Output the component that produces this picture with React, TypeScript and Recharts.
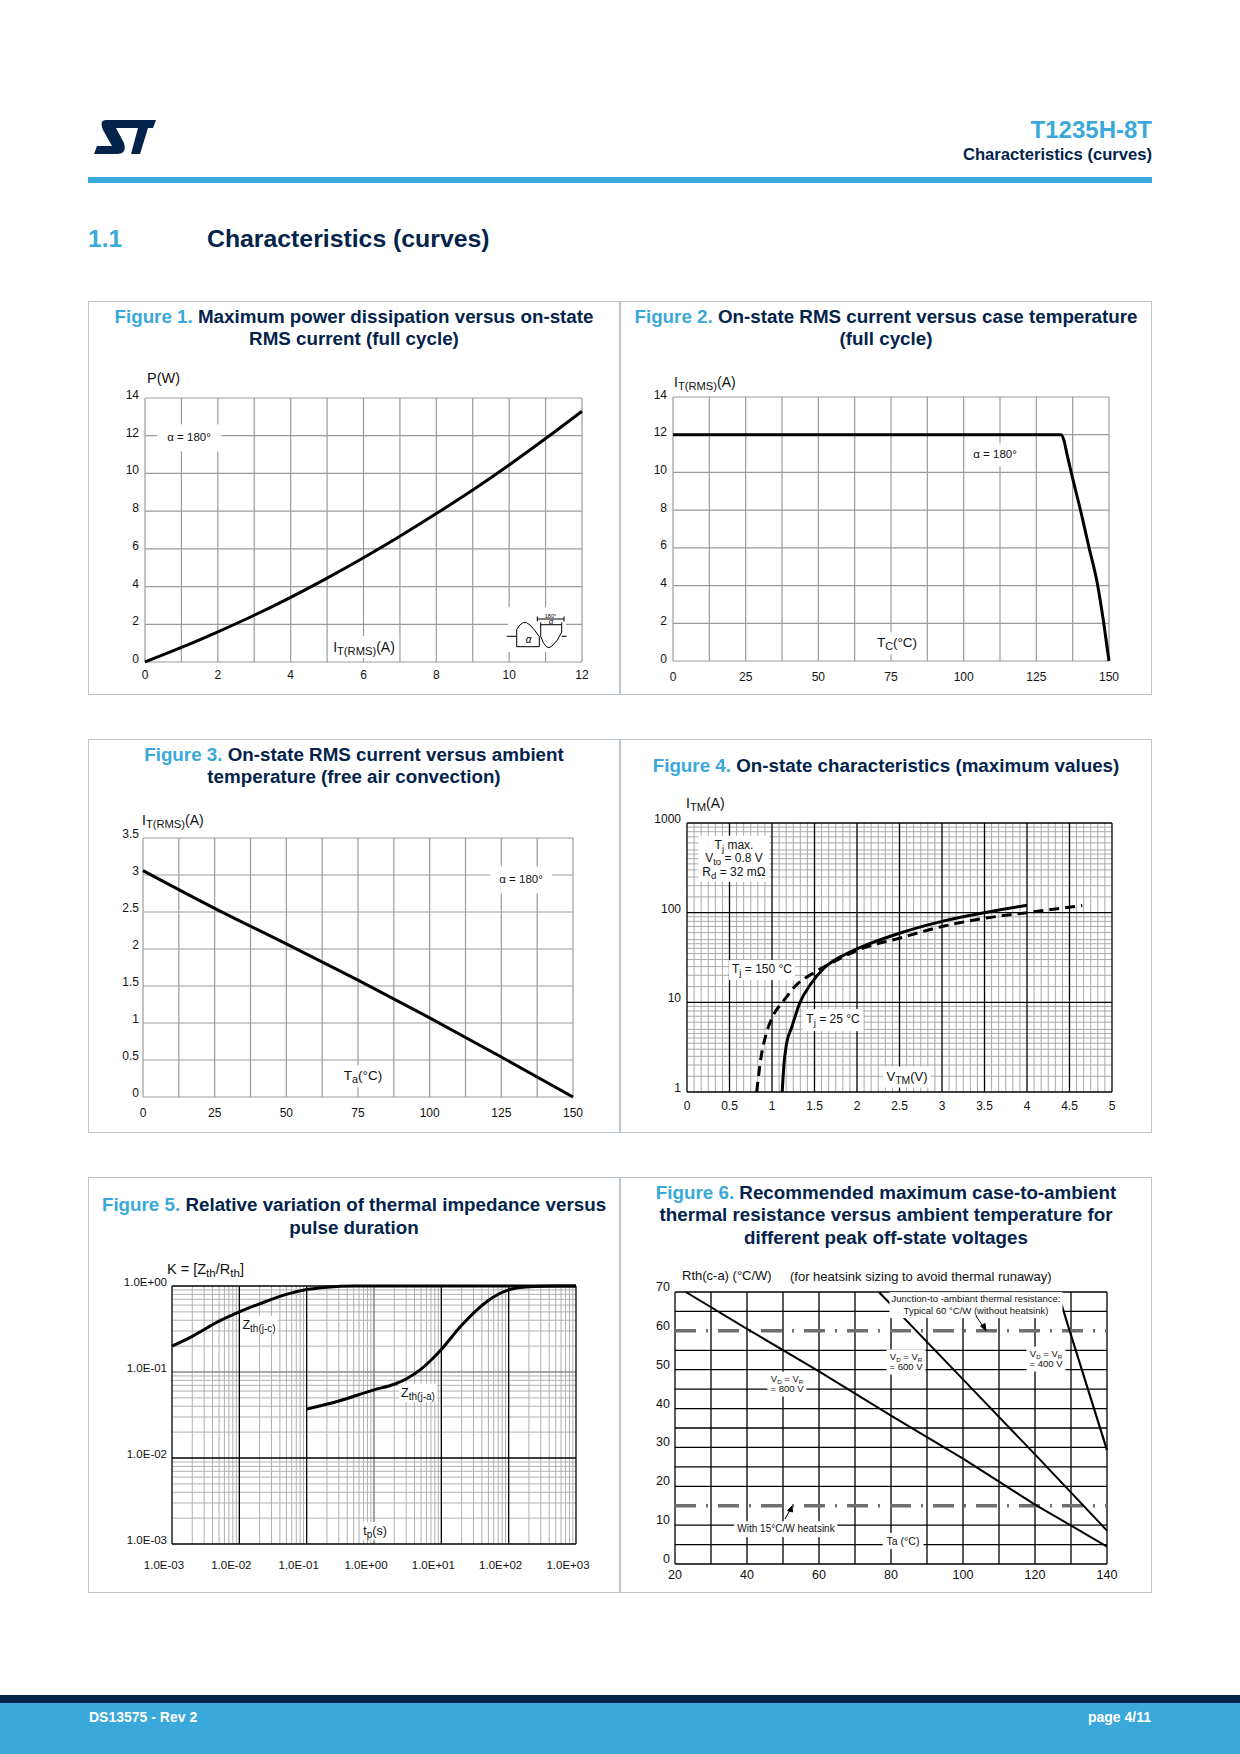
import React from "react";
import { LineChart, Line, XAxis, YAxis, ReferenceLine } from "recharts";

const FONT = "'Liberation Sans', Arial, Helvetica, sans-serif";
const NAVY = "#03234B";
const BLUE = "#3AA8DB";
const INK = "#111";

// ---------- data ----------
// Figure 1: P(W) vs IT(RMS)(A)
const fig1Current = [0, 1, 2, 3, 4, 5, 6, 7, 8, 9, 10, 11, 12];
const fig1Power = [0, 0.77, 1.6, 2.48, 3.43, 4.45, 5.53, 6.67, 7.87, 9.12, 10.45, 11.85, 13.3];
const fig1XTicks = [0, 1, 2, 3, 4, 5, 6, 7, 8, 9, 10, 11, 12];
const fig1YTicks = [0, 2, 4, 6, 8, 10, 12, 14];

// Figure 2: IT(RMS) vs Tc
const fig2CaseTemp = [0, 133.5, 134.5, 135.5, 137, 140.5, 143, 146, 148.2, 150];
const fig2Current = [12, 12, 11.7, 11.0, 10, 7.8, 6.1, 4.1, 2, 0];
const tempTicks = [0, 12.5, 25, 37.5, 50, 62.5, 75, 87.5, 100, 112.5, 125, 137.5, 150];

// Figure 3: IT(RMS) vs Ta
const fig3AmbTemp = [0, 25, 50, 75, 100, 125, 150];
const fig3Current = [3.06, 2.55, 2.07, 1.58, 1.07, 0.54, 0];
const fig3YTicks = [0, 0.5, 1, 1.5, 2, 2.5, 3, 3.5];

// Figure 4: ITM vs VTM
const fig4VoltTj25 = [1.12, 1.14, 1.17, 1.23, 1.33, 1.45, 1.61, 1.8, 2.0, 2.5, 3.0, 3.5, 4.0];
const fig4CurrTj25 = [1, 2, 3.4, 5.2, 10, 15.7, 24, 32, 39.5, 59, 80, 100, 121];
const fig4VoltTj150 = [0.82, 0.87, 0.93, 1.01, 1.13, 1.29, 1.49, 1.73, 2.0, 2.5, 3.0, 3.5, 4.0, 4.65];
const fig4CurrTj150 = [1, 2.4, 4.4, 7, 10.2, 15.7, 21.3, 28.5, 38, 52, 70, 86.5, 100, 120];
const fig4XTicks = [0, 0.5, 1, 1.5, 2, 2.5, 3, 3.5, 4, 4.5, 5];
const fig4YTicks = [1, 10, 100, 1000];
const fig4MinorX = Array.from({ length: 61 }, (_, i) => i).filter((i) => i % 6 !== 0).map((i) => i / 12);
const fig4MinorY = [1, 10, 100].flatMap((d) => [1.5, 2, 2.5, 3, 3.5, 4, 4.5, 5, 6, 7, 8, 9].map((m) => m * d));

// Figure 5: K vs tp
const fig5TimeJc = [1e-3, 2e-3, 5e-3, 1e-2, 2e-2, 5e-2, 1e-1, 2e-1, 5e-1, 1, 1e3];
const fig5ZthJc = [0.2, 0.26, 0.39, 0.5, 0.62, 0.8, 0.91, 0.97, 1, 1, 1];
const fig5TimeJa = [1e-1, 3e-1, 1, 2, 3, 5, 7, 1e1, 2e1, 5e1, 1e2, 2e2, 5e2, 1e3];
const fig5ZthJa = [0.037, 0.046, 0.062, 0.072, 0.083, 0.108, 0.137, 0.183, 0.35, 0.68, 0.9, 0.98, 1, 1];
const fig5XTicks = [1e-3, 1e-2, 1e-1, 1, 1e1, 1e2, 1e3];
const fig5YTicks = [1e-3, 1e-2, 1e-1, 1];
const fig5MinorX = [1e-3, 1e-2, 1e-1, 1, 1e1, 1e2].flatMap((d) => [2, 3, 4, 5, 6, 7, 8, 9].map((m) => m * d));
const fig5MinorY = [1e-3, 1e-2, 1e-1].flatMap((d) => [2, 3, 4, 5, 6, 7, 8, 9].map((m) => m * d));

// Figure 6: Rth(c-a) vs Ta
const fig6Ta800 = [23, 40, 60, 80, 100, 120, 140];
const fig6Rth800 = [70, 60.5, 49.6, 38.2, 27.1, 15.3, 4.5];
const fig6Ta600 = [76.6, 80, 100, 120, 140];
const fig6Rth600 = [70, 66.8, 47.5, 28.2, 8.6];
const fig6Ta400 = [126.3, 129.6, 140];
const fig6Rth400 = [70, 60.1, 29.3];
const fig6XTicks = [20, 30, 40, 50, 60, 70, 80, 90, 100, 110, 120, 130, 140];
const fig6YTicks = [0, 5, 10, 15, 20, 25, 30, 35, 40, 45, 50, 55, 60, 65, 70];
const fig6Limits = [60, 15]; // junction-ambient without heatsink, with 15°C/W heatsink

const pts = (xs: number[], ys: number[]) => xs.map((x, i) => ({ x, y: ys[i] }));

// ---------- chart frame ----------
type Rect = { x0: number; y0: number; x1: number; y1: number };
const PL = 70, PR = 14, PT = 14, PB = 34;

const sci = (v: number) => {
  const e = Math.round(Math.log10(v));
  return `1.0E${e < 0 ? "-" : "+"}${String(Math.abs(e)).padStart(2, "0")}`;
};

function yTick(gap: number, dy: number, size = 12, fmt = (v: number) => String(v)) {
  return (p: any) => (
    <text x={p.x - gap} y={p.y + dy} textAnchor="end" dominantBaseline="central" fontFamily={FONT} fontSize={size} fill={INK}>
      {fmt(p.payload.value)}
    </text>
  );
}

function xTick(dy: number, size = 12, fmt = (v: number) => String(v), dx = 0) {
  return (p: any) => (
    <text x={p.x + dx} y={p.y + dy} textAnchor="middle" dominantBaseline="central" fontFamily={FONT} fontSize={size} fill={INK}>
      {fmt(p.payload.value)}
    </text>
  );
}

type Grid = { axis: "x" | "y"; values: number[]; stroke: string; width: number; dash?: string };
type Series = { data: { x: number; y: number }[]; curve: "monotone" | "linear"; width: number; dash?: string };

function Chart(c: {
  rect: Rect;
  xDomain: [number, number];
  yDomain: [number, number];
  xLog?: boolean;
  yLog?: boolean;
  xTicks: number[];
  yTicks: number[];
  xTick: any;
  yTick: any;
  grids: Grid[];
  series: Series[];
}) {
  const w = c.rect.x1 - c.rect.x0 + PL + PR;
  const h = c.rect.y1 - c.rect.y0 + PT + PB;
  return (
    <div style={{ position: "absolute", left: c.rect.x0 - PL, top: c.rect.y0 - PT }}>
      <LineChart width={w} height={h} margin={{ top: PT, right: PR, bottom: 0, left: 0 }}>
        <XAxis
          type="number"
          dataKey="x"
          scale={c.xLog ? "log" : "linear"}
          domain={c.xDomain}
          ticks={c.xTicks}
          interval={0}
          tick={c.xTick}
          tickLine={false}
          axisLine={false}
          tickSize={0}
          tickMargin={0}
          height={PB}
        />
        <YAxis
          type="number"
          scale={c.yLog ? "log" : "linear"}
          domain={c.yDomain}
          ticks={c.yTicks}
          interval={0}
          tick={c.yTick}
          tickLine={false}
          axisLine={false}
          tickSize={0}
          tickMargin={0}
          width={PL}
        />
        {c.grids.flatMap((g, gi) =>
          g.values.map((v) =>
            g.axis === "x" ? (
              <ReferenceLine key={`g${gi}x${v}`} x={v} stroke={g.stroke} strokeWidth={g.width} strokeDasharray={g.dash} ifOverflow="visible" />
            ) : (
              <ReferenceLine key={`g${gi}y${v}`} y={v} stroke={g.stroke} strokeWidth={g.width} strokeDasharray={g.dash} ifOverflow="visible" />
            )
          )
        )}
        {c.series.map((s, i) => (
          <Line
            key={i}
            data={s.data}
            dataKey="y"
            type={s.curve}
            stroke="#000"
            strokeWidth={s.width}
            strokeDasharray={s.dash}
            dot={false}
            activeDot={false}
            isAnimationActive={false}
          />
        ))}
      </LineChart>
    </div>
  );
}

// ---------- page helpers ----------
const Sub = ({ children, s = 0.8 }: { children: React.ReactNode; s?: number }) => (
  <span style={{ fontSize: `${s}em`, position: "relative", top: "0.3em" }}>{children}</span>
);

function Note(props: {
  x: number;
  y: number;
  size?: number;
  pad?: string;
  left?: boolean;
  bg?: boolean;
  lh?: number;
  children: React.ReactNode;
}) {
  const { x, y, size = 12, pad = "2px 3px", left = false, bg = true, lh = 1.15, children } = props;
  return (
    <div
      style={{
        position: "absolute",
        left: x,
        top: y,
        transform: left ? "translateY(-50%)" : "translate(-50%, -50%)",
        background: bg ? "#fff" : "none",
        padding: pad,
        fontFamily: FONT,
        fontSize: size,
        lineHeight: lh,
        color: INK,
        whiteSpace: "nowrap",
        textAlign: "center",
      }}
    >
      {children}
    </div>
  );
}

function Txt(props: { x: number; base: number; size: number; color: string; right?: boolean; bold?: boolean; children: React.ReactNode }) {
  const { x, base, size, color, right, bold = true, children } = props;
  const top = base - 0.8465 * size;
  const pos: React.CSSProperties = right ? { right: 1240 - x } : { left: x };
  return (
    <div style={{ position: "absolute", top, ...pos, fontFamily: FONT, fontSize: size, lineHeight: `${size}px`, fontWeight: bold ? 700 : 400, color, whiteSpace: "nowrap" }}>
      {children}
    </div>
  );
}

function Title({ box, top, lh, num, lines }: { box: [number, number]; top: number; lh: number; num: string; lines: string[] }) {
  return (
    <div style={{ position: "absolute", left: box[0], width: box[1] - box[0], top, textAlign: "center", fontFamily: FONT, fontWeight: 700, fontSize: 18.8, lineHeight: `${lh}px`, color: NAVY }}>
      {lines.map((t, i) => (
        <div key={i}>
          {i === 0 && <span style={{ color: BLUE }}>{num} </span>}
          {t}
        </div>
      ))}
    </div>
  );
}

function Box({ x0, x1, y0, y1 }: { x0: number; x1: number; y0: number; y1: number }) {
  return <div style={{ position: "absolute", left: x0, top: y0, width: x1 - x0, height: y1 - y0, border: "1.5px solid #BCC4CC", boxSizing: "border-box" }} />;
}

const GRAY = "#9b9b9b";
const L: [number, number] = [88, 620];
const Rb: [number, number] = [620, 1152];

export default function App() {
  return (
    <div style={{ position: "absolute", left: 0, top: 0, width: 1240, height: 1754, background: "#fff", overflow: "hidden", fontFamily: FONT }}>
      {/* header */}
      <Txt x={1152} base={138} size={24} color={BLUE} right>T1235H-8T</Txt>
      <Txt x={1152} base={161} size={16.6} color={NAVY} right>Characteristics (curves)</Txt>
      <div style={{ position: "absolute", left: 88, top: 177, width: 1064, height: 6, background: BLUE }} />
      <Txt x={88} base={248} size={24.5} color={BLUE}>1.1</Txt>
      <Txt x={207} base={248} size={24.8} color={NAVY}>Characteristics (curves)</Txt>

      {/* figure frames */}
      <Box x0={88} x1={621} y0={301} y1={695} />
      <Box x0={619} x1={1152} y0={301} y1={695} />
      <Box x0={88} x1={621} y0={739} y1={1133} />
      <Box x0={619} x1={1152} y0={739} y1={1133} />
      <Box x0={88} x1={621} y0={1177} y1={1593} />
      <Box x0={619} x1={1152} y0={1177} y1={1593} />

      <Title box={L} top={306} lh={22} num="Figure 1." lines={["Maximum power dissipation versus on-state", "RMS current (full cycle)"]} />
      <Title box={Rb} top={306} lh={22} num="Figure 2." lines={["On-state RMS current versus case temperature", "(full cycle)"]} />
      <Title box={L} top={744} lh={22} num="Figure 3." lines={["On-state RMS current versus ambient", "temperature (free air convection)"]} />
      <Title box={Rb} top={755} lh={22} num="Figure 4." lines={["On-state characteristics (maximum values)"]} />
      <Title box={L} top={1193} lh={23.4} num="Figure 5." lines={["Relative variation of thermal impedance versus", "pulse duration"]} />
      <Title box={Rb} top={1182} lh={22.4} num="Figure 6." lines={["Recommended maximum case-to-ambient", "thermal resistance versus ambient temperature for", "different peak off-state voltages"]} />

      {/* Figure 1 */}
      <Chart
        rect={{ x0: 145, y0: 398, x1: 582, y1: 662 }}
        xDomain={[0, 12]}
        yDomain={[0, 14]}
        xTicks={fig1XTicks}
        yTicks={fig1YTicks}
        xTick={xTick(13, 12, (v) => (v % 2 === 0 ? String(v) : ""))}
        yTick={yTick(6, -3)}
        grids={[
          { axis: "x", values: fig1XTicks, stroke: GRAY, width: 1.2 },
          { axis: "y", values: fig1YTicks, stroke: GRAY, width: 1.2 },
        ]}
        series={[{ data: pts(fig1Current, fig1Power), curve: "monotone", width: 3 }]}
      />
      <Note x={147} y={378} size={14.5} bg={false} pad="0" left>P(W)</Note>
      <Note x={189} y={438} size={11.5} pad="7px 10px">α = 180°</Note>
      <Note x={364} y={647} size={14} pad="3px 4px">I<Sub>T(RMS)</Sub>(A)</Note>

      {/* Figure 2 */}
      <Chart
        rect={{ x0: 673, y0: 397, x1: 1109, y1: 661 }}
        xDomain={[0, 150]}
        yDomain={[0, 14]}
        xTicks={tempTicks}
        yTicks={fig1YTicks}
        xTick={xTick(16, 12, (v) => (v % 25 === 0 ? String(v) : ""))}
        yTick={yTick(6, -2.5)}
        grids={[
          { axis: "x", values: tempTicks, stroke: GRAY, width: 1.2 },
          { axis: "y", values: fig1YTicks, stroke: GRAY, width: 1.2 },
        ]}
        series={[{ data: pts(fig2CaseTemp, fig2Current), curve: "monotone", width: 3 }]}
      />
      <Note x={674} y={382} size={14} bg={false} pad="0" left>I<Sub>T(RMS)</Sub>(A)</Note>
      <Note x={995} y={455} size={11.5} pad="5px 7px">α = 180°</Note>
      <Note x={897} y={643} size={13.5} pad="3px 3px">T<Sub>C</Sub>(°C)</Note>

      {/* Figure 3 */}
      <Chart
        rect={{ x0: 143, y0: 838, x1: 573, y1: 1097 }}
        xDomain={[0, 150]}
        yDomain={[0, 3.5]}
        xTicks={tempTicks}
        yTicks={fig3YTicks}
        xTick={xTick(16, 12, (v) => (v % 25 === 0 ? String(v) : ""))}
        yTick={yTick(4, -4)}
        grids={[
          { axis: "x", values: tempTicks, stroke: GRAY, width: 1.2 },
          { axis: "y", values: fig3YTicks, stroke: GRAY, width: 1.2 },
        ]}
        series={[{ data: pts(fig3AmbTemp, fig3Current), curve: "monotone", width: 3 }]}
      />
      <Note x={142} y={820} size={14} bg={false} pad="0" left>I<Sub>T(RMS)</Sub>(A)</Note>
      <Note x={521} y={880} size={11.5} pad="7px 9px">α = 180°</Note>
      <Note x={363} y={1076} size={13.5} pad="3px 3px">T<Sub>a</Sub>(°C)</Note>

      {/* Figure 4 */}
      <Chart
        rect={{ x0: 687, y0: 823, x1: 1112, y1: 1092 }}
        xDomain={[0, 5]}
        yDomain={[1, 1000]}
        yLog
        xTicks={fig4XTicks}
        yTicks={fig4YTicks}
        xTick={xTick(14)}
        yTick={yTick(6, -4)}
        grids={[
          { axis: "x", values: fig4MinorX, stroke: "#a9a9a9", width: 1 },
          { axis: "y", values: fig4MinorY, stroke: "#a9a9a9", width: 1 },
          { axis: "x", values: fig4XTicks, stroke: "#000", width: 1.3 },
          { axis: "y", values: fig4YTicks, stroke: "#000", width: 1.3 },
        ]}
        series={[
          { data: pts(fig4VoltTj25, fig4CurrTj25), curve: "monotone", width: 3 },
          { data: pts(fig4VoltTj150, fig4CurrTj150), curve: "monotone", width: 3, dash: "10 6" },
        ]}
      />
      <Note x={686} y={803} size={14} bg={false} pad="0" left>I<Sub>TM</Sub>(A)</Note>
      <Note x={734} y={859} size={12} pad="3px 4px" lh={1.12}>
        T<Sub>j</Sub> max.
        <br />
        V<Sub>to</Sub> = 0.8 V
        <br />
        R<Sub>d</Sub> = 32 mΩ
      </Note>
      <Note x={762} y={970} size={12} pad="3px 3px">T<Sub>j</Sub> = 150 °C</Note>
      <Note x={833} y={1020} size={12} pad="4px 4px">T<Sub>j</Sub> = 25 °C</Note>
      <Note x={907} y={1077} size={13} pad="3px 3px">V<Sub>TM</Sub>(V)</Note>

      {/* Figure 5 */}
      <Chart
        rect={{ x0: 172, y0: 1286, x1: 576, y1: 1544 }}
        xDomain={[1e-3, 1e3]}
        yDomain={[1e-3, 1]}
        xLog
        yLog
        xTicks={fig5XTicks}
        yTicks={fig5YTicks}
        xTick={xTick(21, 11.5, sci, -8)}
        yTick={yTick(5, -4, 11.5, sci)}
        grids={[
          { axis: "x", values: fig5MinorX, stroke: "#b0b0b0", width: 1 },
          { axis: "y", values: fig5MinorY, stroke: "#b0b0b0", width: 1 },
          { axis: "x", values: [1], stroke: "#8a8a8a", width: 1.6 },
          { axis: "y", values: [1e-1], stroke: "#8a8a8a", width: 1.6 },
          { axis: "x", values: [1e-3, 1e-2, 1e-1, 1e1, 1e2, 1e3], stroke: "#000", width: 1.3 },
          { axis: "y", values: [1e-3, 1e-2, 1], stroke: "#000", width: 1.3 },
        ]}
        series={[
          { data: pts(fig5TimeJc, fig5ZthJc), curve: "monotone", width: 3 },
          { data: pts(fig5TimeJa, fig5ZthJa), curve: "monotone", width: 3 },
        ]}
      />
      <Note x={167} y={1269} size={14.5} bg={false} pad="0" left>K = [Z<Sub>th</Sub>/R<Sub>th</Sub>]</Note>
      <Note x={259} y={1325} size={12.5} pad="2px 2px">Z<Sub>th(j-c)</Sub></Note>
      <Note x={418} y={1393} size={12.5} pad="2px 2px">Z<Sub>th(j-a)</Sub></Note>
      <Note x={375} y={1531} size={12.5} pad="2px 3px">t<Sub>p</Sub>(s)</Note>

      {/* Figure 6 */}
      <Chart
        rect={{ x0: 675, y0: 1292, x1: 1107, y1: 1564 }}
        xDomain={[20, 140]}
        yDomain={[0, 70]}
        xTicks={fig6XTicks}
        yTicks={fig6YTicks}
        xTick={xTick(11, 12.5, (v) => (v % 20 === 0 ? String(v) : ""))}
        yTick={yTick(5, -5, 12.5, (v) => (v % 10 === 0 ? String(v) : ""))}
        grids={[
          { axis: "x", values: fig6XTicks, stroke: "#000", width: 1.3 },
          { axis: "y", values: fig6YTicks.filter((v) => !fig6Limits.includes(v)), stroke: "#000", width: 1.3 },
          { axis: "y", values: fig6Limits, stroke: "#6f6f6f", width: 3.5, dash: "21 10 2 10" },
        ]}
        series={[
          { data: pts(fig6Ta800, fig6Rth800), curve: "linear", width: 2 },
          { data: pts(fig6Ta600, fig6Rth600), curve: "linear", width: 2 },
          { data: pts(fig6Ta400, fig6Rth400), curve: "linear", width: 2.2 },
        ]}
      />
      <Note x={682} y={1276} size={13} bg={false} pad="0" left>Rth(c-a) (°C/W)</Note>
      <Note x={790} y={1277} size={13} bg={false} pad="0" left>(for heatsink sizing to avoid thermal runaway)</Note>
      <Note x={976} y={1305} size={9.5} pad="1px 2px" lh={1.25}>
        Junction-to -ambiant thermal resistance:
        <br />
        Typical 60 °C/W (without heatsink)
      </Note>
      <Note x={787} y={1384} size={9.5} pad="2px 3px" lh={1.1}>
        V<Sub s={0.65}>D</Sub> = V<Sub s={0.65}>R</Sub>
        <br />= 800 V
      </Note>
      <Note x={906} y={1362} size={9.5} pad="2px 3px" lh={1.1}>
        V<Sub s={0.65}>D</Sub> = V<Sub s={0.65}>R</Sub>
        <br />= 600 V
      </Note>
      <Note x={1046} y={1359} size={9.5} pad="2px 3px" lh={1.1}>
        V<Sub s={0.65}>D</Sub> = V<Sub s={0.65}>R</Sub>
        <br />= 400 V
      </Note>
      <Note x={786} y={1529} size={10} pad="2px 3px">With 15°C/W heatsink</Note>
      <Note x={903} y={1541} size={10.5} pad="2px 4px">Ta (°C)</Note>

      {/* decorative drawings: logo, waveform inset, arrows */}
      <svg width={1240} height={1754} style={{ position: "absolute", left: 0, top: 0, pointerEvents: "none" }}>
        <path d="M106,120 H156 L153,128 H116 L124,143 Q127,154 117,154 H94 L97,146 H112 L103,130 Q99,120 106,120 Z" fill={NAVY} />
        <path d="M138,128 H148 L140,154 H131 Z" fill={NAVY} />

        <rect x={508} y={607} width={58} height={45} fill="#fff" />
        <g fill="none" stroke="#000" strokeWidth={1}>
          <path d="M506.7,636.3 H516.7 V629.5 Q523,618 530,625 Q535,630 539,636.3" />
          <path d="M516.7,636.3 V646.7 H539.3 V636.3" />
          <path d="M540.7,622.3 V636.3 Q546,652 552,646 Q558,641 561.7,632 V622.3 M561.7,636.3 H566.7" />
          <path d="M537.3,616.5 V621.5 M564,616.5 V621.5 M537.3,619 H564" />
          <path d="M540.7,624.7 H561.7" />
        </g>
        <text x={528.5} y={643} textAnchor="middle" fontSize={10} fontFamily={FONT} fontStyle="italic">α</text>
        <text x={550.5} y={618} textAnchor="middle" fontSize={5.5} fontFamily={FONT}>180°</text>
        <text x={551} y={624} textAnchor="middle" fontSize={8} fontFamily={FONT} fontStyle="italic">α</text>

        <g stroke="#000" strokeWidth={1} fill="#000">
          <line x1={976} y1={1316} x2={983.5} y2={1327} />
          <path d="M986,1331 L980.5,1326 L985,1323.5 Z" />
          <line x1={785} y1={1519} x2={790} y2={1510} />
          <path d="M792,1506 L787.5,1510.5 L792.5,1512 Z" />
        </g>
      </svg>

      {/* footer */}
      <div style={{ position: "absolute", left: 0, top: 1695, width: 1240, height: 8, background: NAVY }} />
      <div style={{ position: "absolute", left: 0, top: 1703, width: 1240, height: 51, background: BLUE }} />
      <Txt x={89} base={1722} size={14} color="#fff">DS13575 - Rev 2</Txt>
      <Txt x={1151} base={1722} size={14} color="#fff" right>page 4/11</Txt>
    </div>
  );
}
